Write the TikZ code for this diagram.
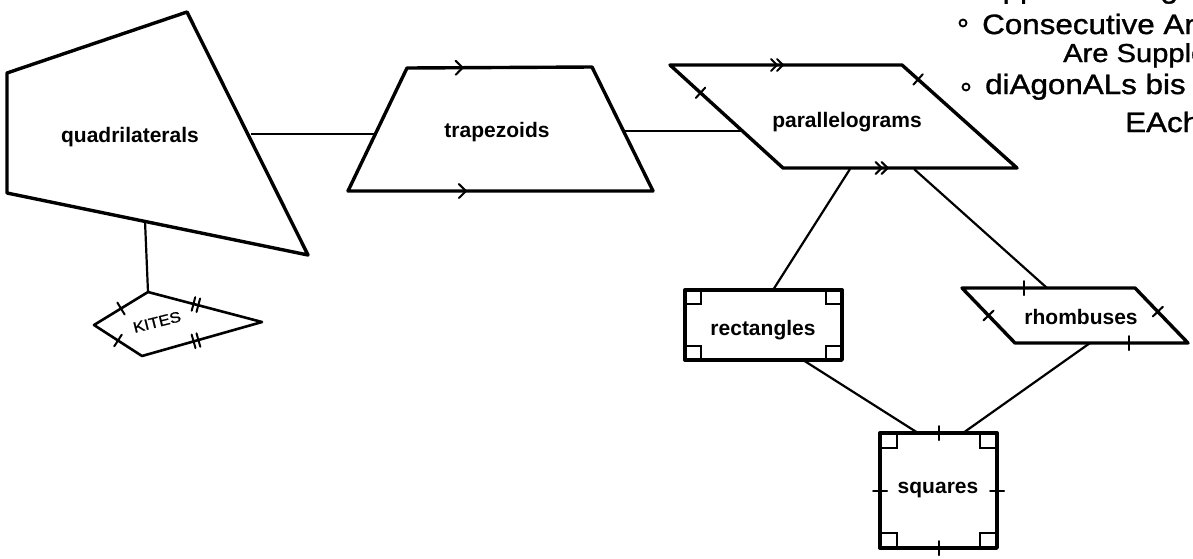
\documentclass[tikz,border=0pt]{standalone}
\usepackage{fontspec}
\setmainfont{Liberation Sans}
\newfontfamily\handfont[FakeBold=1.2, FakeStretch=1.12]{Liberation Sans}
\usetikzlibrary{decorations.markings}

\tikzset{
  outline/.style={line width=3.4pt, line join=round},
  link/.style={line width=2.2pt},
  pen/.style={line width=2pt, line cap=round},
  label/.style={font=\bfseries\fontsize{21}{24}\selectfont, inner sep=0pt},
  hand/.style={font=\handfont\fontsize{28}{32}\selectfont, inner sep=0pt, anchor=base west},
  bullet/.style={line width=1.8pt},
  % tick marks and parallel arrows placed along an edge
  onetick/.style={postaction={decorate, decoration={markings,
      mark=at position #1 with {\draw[pen] (0,-7pt) -- (0,7pt);}}}},
  twotick/.style={postaction={decorate, decoration={markings,
      mark=at position #1 with {\draw[pen] (-2.5pt,-7pt) -- (-2.5pt,7pt) (2.5pt,-7pt) -- (2.5pt,7pt);}}}},
  onearrow/.style={postaction={decorate, decoration={markings,
      mark=at position #1 with {\draw[pen] (-5pt,7pt) -- (2pt,0) -- (-5pt,-7pt);}}}},
  twoarrow/.style={postaction={decorate, decoration={markings,
      mark=at position #1 with {\draw[pen] (-8pt,6pt) -- (-2pt,0) -- (-8pt,-6pt) (-2pt,6pt) -- (4pt,0) -- (-2pt,-6pt);}}}},
  cornerbox/.style={line width=2.6pt},
}

\begin{document}
\begin{tikzpicture}[x=1pt, y=-1pt]
\clip (0,0) rectangle (1193,558);
\fill[white] (0,0) rectangle (1193,558);

% ---- quadrilaterals
\coordinate (qA) at (7,73);
\coordinate (qB) at (187,12);
\coordinate (qC) at (308,255);
\coordinate (qD) at (7,193);
\draw[outline] (qA) -- (qB) -- (qC) -- (qD) -- cycle;
\node[label] (quad) at (130,137) {quadrilaterals};
\coordinate (qOut) at (251,134);
\coordinate (qDown) at (145,221);

% ---- kites (hand drawn)
\coordinate (k1) at (148,292);
\coordinate (k2) at (262,322);
\coordinate (k3) at (142,356);
\coordinate (k4) at (94,325);
\draw[line width=2.6pt, line join=round] (k1) -- (k2) -- (k3) -- (k4) -- cycle;
\path[onetick=0.5] (k4) -- (k1);
\path[onetick=0.5] (k4) -- (k3);
\path[twotick=0.42] (k1) -- (k2);
\path[twotick=0.45] (k3) -- (k2);
\node[font=\handfont\fontsize{15}{17}\selectfont, rotate=14, inner sep=0pt] (kites) at (157,322) {KITES};

% ---- trapezoids
\coordinate (t1) at (407,68);
\coordinate (t2) at (592,67);
\coordinate (t3) at (653,191);
\coordinate (t4) at (348,191);
\draw[outline] (t1) -- (t2) -- (t3) -- (t4) -- cycle;
\path[onearrow=0.29] (t1) -- (t2);
\path[onearrow=0.38] (t4) -- (t3);
\node[label] (trap) at (497,132) {trapezoids};
\coordinate (tIn) at (376,134);
\coordinate (tOut) at (624,131);

% ---- parallelograms
\coordinate (p1) at (670,65);
\coordinate (p2) at (902,65);
\coordinate (p3) at (1017,168);
\coordinate (p4) at (783,168);
\draw[outline] (p1) -- (p2) -- (p3) -- (p4) -- cycle;
\path[twoarrow=0.47] (p1) -- (p2);
\path[twoarrow=0.43] (p4) -- (p3);
\path[onetick=0.27] (p1) -- (p4);
\path[onetick=0.14] (p2) -- (p3);
\node[label] (para) at (847,122) {parallelograms};
\coordinate (pIn) at (742,131);
\coordinate (pL) at (850,169);
\coordinate (pR) at (914,169);

% ---- rectangles
\coordinate (r1) at (685,290);
\coordinate (r3) at (842,360);
\draw[outline] (r1) rectangle (r3);
\draw[cornerbox] (685,290) rectangle ++(16,14)
                 (842,290) rectangle ++(-16,14)
                 (685,360) rectangle ++(16,-14)
                 (842,360) rectangle ++(-16,-14);
\node[label] (rect) at (763,330) {rectangles};
\coordinate (rTop) at (773,290);
\coordinate (rBot) at (803,360);

% ---- rhombuses
\coordinate (h1) at (962,288);
\coordinate (h2) at (1135,288);
\coordinate (h3) at (1188,343);
\coordinate (h4) at (1015,343);
\draw[outline] (h1) -- (h2) -- (h3) -- (h4) -- cycle;
\path[onetick=0.36] (h1) -- (h2);
\path[onetick=0.66] (h4) -- (h3);
\path[onetick=0.5] (h1) -- (h4);
\path[onetick=0.43] (h2) -- (h3);
\node[label] (rhom) at (1081,317) {rhombuses};
\coordinate (hTop) at (1047,288);
\coordinate (hBot) at (1090,343);

% ---- squares
\coordinate (s1) at (880,433);
\coordinate (s3) at (997,548);
\draw[outline] (s1) rectangle (s3);
\draw[cornerbox] (880,433) rectangle ++(17,15)
                 (997,433) rectangle ++(-17,15)
                 (880,548) rectangle ++(17,-15)
                 (997,548) rectangle ++(-17,-15);
\path[onetick=0.5] (880,433) -- (997,433);
\path[onetick=0.5] (880,548) -- (997,548);
\path[onetick=0.5] (880,433) -- (880,548);
\path[onetick=0.5] (997,433) -- (997,548);
\node[label] (sq) at (938,490) {squares};
\coordinate (sL) at (918,433);
\coordinate (sR) at (963,433);

% ---- connectors
\draw[link] (qOut) -- (tIn);
\draw[link] (tOut) -- (pIn);
\draw[link] (qDown) -- (k1);
\draw[link] (pL) -- (rTop);
\draw[link] (pR) -- (hTop);
\draw[link] (rBot) -- (sL);
\draw[link] (hBot) -- (sR);

% ---- hand-written notes
\node[hand] (n0a) at (985,-2) {opposite};
\node[hand] (n0b) at (1122,-2) {Angles};
\draw[bullet] (963,23) circle (3.5pt);
\node[hand] (n1) at (982,34) {Consecutive An};
\node[hand, font=\handfont\fontsize{26}{30}\selectfont] (n2) at (1063,62) {Are Supple};
\draw[bullet] (966,87) circle (3.5pt);
\node[hand] (n3) at (985,94) {diAgonALs bis};
\node[hand] (n4) at (1125,132) {EAch};
\end{tikzpicture}
\end{document}
